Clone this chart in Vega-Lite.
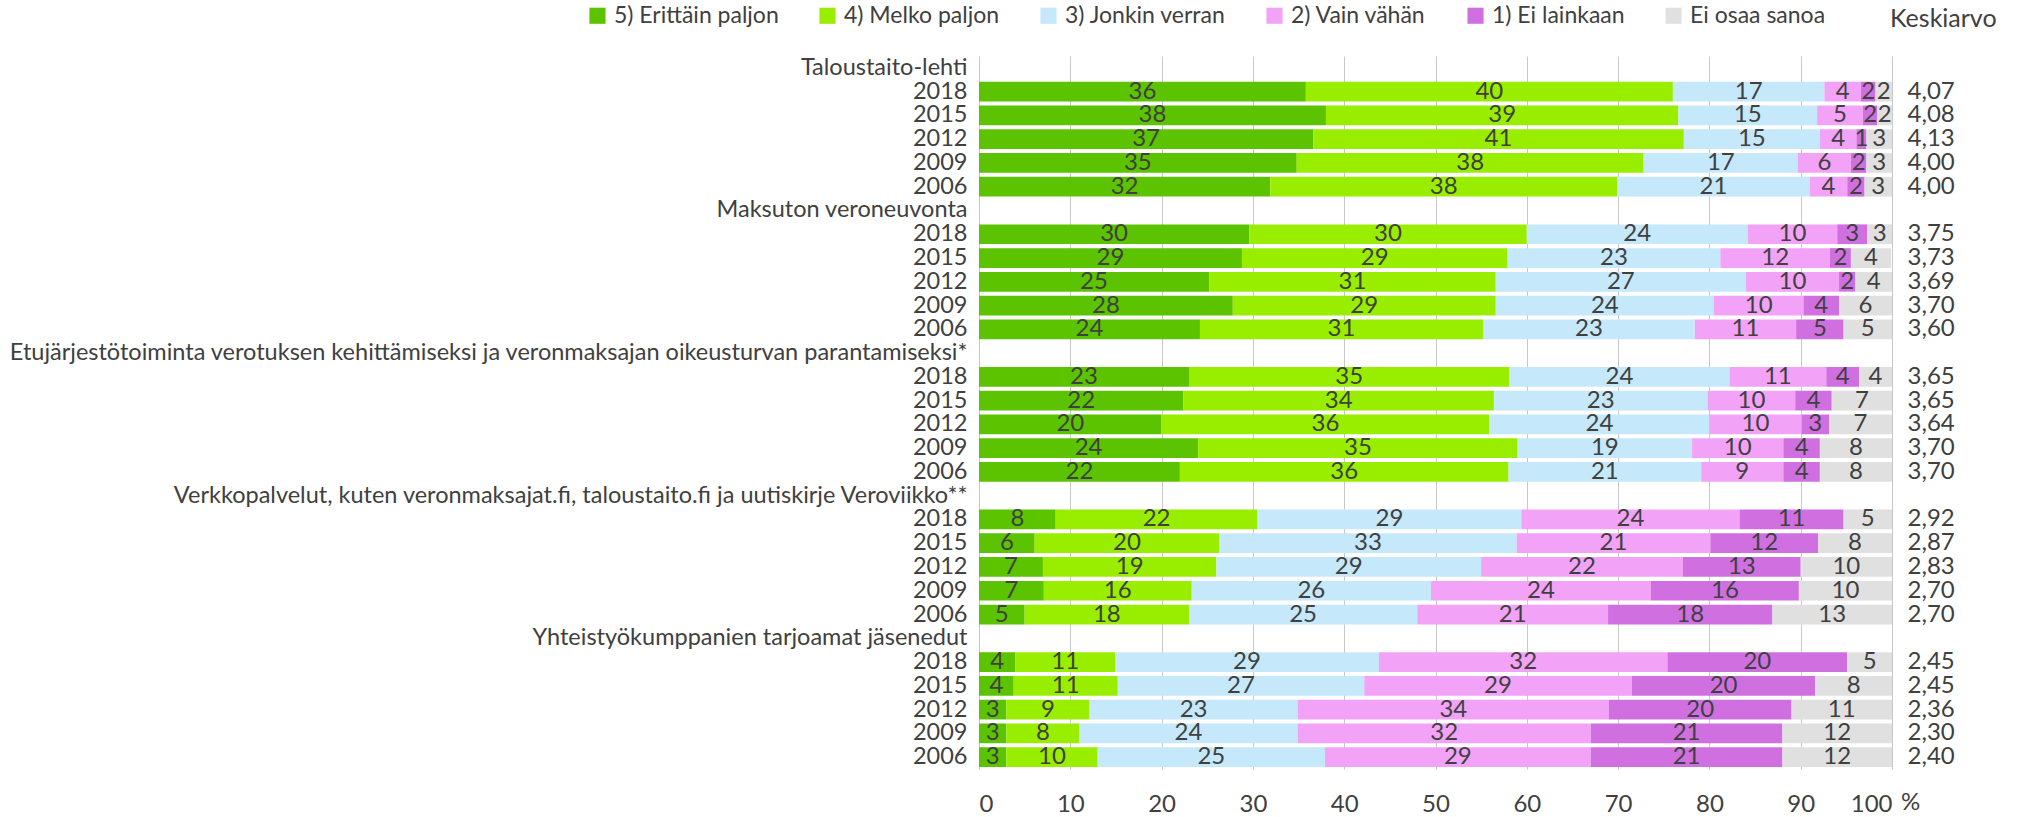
{
  "$schema": "https://vega.github.io/schema/vega-lite/v6.json",
  "width": 913,
  "height": 713,
  "autosize": {"type": "none"},
  "padding": {"left": 979, "top": 56, "right": 127, "bottom": 48},
  "background": "white",
  "config": {
    "view": {"stroke": null},
    "font": "Lato",
    "text": {"font": "Lato"}
  },
  "title": {
    "text": "Keskiarvo",
    "orient": "top",
    "anchor": "end",
    "align": "left",
    "frame": "group",
    "baseline": "middle",
    "offset": 0,
    "dy": 40,
    "dx": -2,
    "fontSize": 25,
    "fontWeight": "normal",
    "color": "#404040",
    "font": "Lato"
  },
  "data": {
    "values": [
      {"row": "1|2018", "5) Erittäin paljon": 35.8, "4) Melko paljon": 40.2, "3) Jonkin verran": 16.6, "2) Vain vähän": 4.0, "1) Ei lainkaan": 1.6, "Ei osaa sanoa": 1.8, "m": "4,07"},
      {"row": "1|2015", "5) Erittäin paljon": 38.0, "4) Melko paljon": 38.6, "3) Jonkin verran": 15.2, "2) Vain vähän": 5.0, "1) Ei lainkaan": 1.6, "Ei osaa sanoa": 1.6, "m": "4,08"},
      {"row": "1|2012", "5) Erittäin paljon": 36.6, "4) Melko paljon": 40.6, "3) Jonkin verran": 14.9, "2) Vain vähän": 4.0, "1) Ei lainkaan": 1.1, "Ei osaa sanoa": 2.8, "m": "4,13"},
      {"row": "1|2009", "5) Erittäin paljon": 34.8, "4) Melko paljon": 38.0, "3) Jonkin verran": 16.9, "2) Vain vähän": 5.8, "1) Ei lainkaan": 1.7, "Ei osaa sanoa": 2.8, "m": "4,00"},
      {"row": "1|2006", "5) Erittäin paljon": 31.9, "4) Melko paljon": 38.0, "3) Jonkin verran": 21.1, "2) Vain vähän": 4.1, "1) Ei lainkaan": 1.9, "Ei osaa sanoa": 3.0, "m": "4,00"},
      {"row": "2|2018", "5) Erittäin paljon": 29.6, "4) Melko paljon": 30.4, "3) Jonkin verran": 24.2, "2) Vain vähän": 9.8, "1) Ei lainkaan": 3.3, "Ei osaa sanoa": 2.7, "m": "3,75"},
      {"row": "2|2015", "5) Erittäin paljon": 28.8, "4) Melko paljon": 29.1, "3) Jonkin verran": 23.3, "2) Vain vähän": 12.0, "1) Ei lainkaan": 2.3, "Ei osaa sanoa": 4.4, "m": "3,73"},
      {"row": "2|2012", "5) Erittäin paljon": 25.2, "4) Melko paljon": 31.4, "3) Jonkin verran": 27.4, "2) Vain vähän": 10.2, "1) Ei lainkaan": 1.8, "Ei osaa sanoa": 4.0, "m": "3,69"},
      {"row": "2|2009", "5) Erittäin paljon": 27.8, "4) Melko paljon": 28.8, "3) Jonkin verran": 23.9, "2) Vain vähän": 9.8, "1) Ei lainkaan": 3.9, "Ei osaa sanoa": 5.8, "m": "3,70"},
      {"row": "2|2006", "5) Erittäin paljon": 24.2, "4) Melko paljon": 31.0, "3) Jonkin verran": 23.2, "2) Vain vähän": 11.1, "1) Ei lainkaan": 5.2, "Ei osaa sanoa": 5.3, "m": "3,60"},
      {"row": "3|2018", "5) Erittäin paljon": 23.0, "4) Melko paljon": 35.1, "3) Jonkin verran": 24.1, "2) Vain vähän": 10.6, "1) Ei lainkaan": 3.6, "Ei osaa sanoa": 3.6, "m": "3,65"},
      {"row": "3|2015", "5) Erittäin paljon": 22.4, "4) Melko paljon": 34.0, "3) Jonkin verran": 23.4, "2) Vain vähän": 9.6, "1) Ei lainkaan": 4.0, "Ei osaa sanoa": 6.6, "m": "3,65"},
      {"row": "3|2012", "5) Erittäin paljon": 20.0, "4) Melko paljon": 35.9, "3) Jonkin verran": 24.1, "2) Vain vähän": 10.1, "1) Ei lainkaan": 3.0, "Ei osaa sanoa": 6.9, "m": "3,64"},
      {"row": "3|2009", "5) Erittäin paljon": 24.0, "4) Melko paljon": 35.0, "3) Jonkin verran": 19.1, "2) Vain vähän": 10.0, "1) Ei lainkaan": 4.0, "Ei osaa sanoa": 7.9, "m": "3,70"},
      {"row": "3|2006", "5) Erittäin paljon": 22.0, "4) Melko paljon": 36.0, "3) Jonkin verran": 21.1, "2) Vain vähän": 9.0, "1) Ei lainkaan": 4.0, "Ei osaa sanoa": 7.9, "m": "3,70"},
      {"row": "4|2018", "5) Erittäin paljon": 8.4, "4) Melko paljon": 22.1, "3) Jonkin verran": 28.9, "2) Vain vähän": 23.9, "1) Ei lainkaan": 11.4, "Ei osaa sanoa": 5.3, "m": "2,92"},
      {"row": "4|2015", "5) Erittäin paljon": 6.1, "4) Melko paljon": 20.2, "3) Jonkin verran": 32.6, "2) Vain vähän": 21.2, "1) Ei lainkaan": 11.8, "Ei osaa sanoa": 8.1, "m": "2,87"},
      {"row": "4|2012", "5) Erittäin paljon": 7.0, "4) Melko paljon": 19.0, "3) Jonkin verran": 29.0, "2) Vain vähän": 22.1, "1) Ei lainkaan": 12.9, "Ei osaa sanoa": 10.0, "m": "2,83"},
      {"row": "4|2009", "5) Erittäin paljon": 7.1, "4) Melko paljon": 16.2, "3) Jonkin verran": 26.2, "2) Vain vähän": 24.1, "1) Ei lainkaan": 16.2, "Ei osaa sanoa": 10.2, "m": "2,70"},
      {"row": "4|2006", "5) Erittäin paljon": 5.0, "4) Melko paljon": 18.0, "3) Jonkin verran": 25.0, "2) Vain vähän": 20.9, "1) Ei lainkaan": 18.0, "Ei osaa sanoa": 13.1, "m": "2,70"},
      {"row": "5|2018", "5) Erittäin paljon": 4.0, "4) Melko paljon": 10.9, "3) Jonkin verran": 28.9, "2) Vain vähän": 31.6, "1) Ei lainkaan": 19.7, "Ei osaa sanoa": 4.9, "m": "2,45"},
      {"row": "5|2015", "5) Erittäin paljon": 3.8, "4) Melko paljon": 11.4, "3) Jonkin verran": 27.0, "2) Vain vähän": 29.3, "1) Ei lainkaan": 20.1, "Ei osaa sanoa": 8.4, "m": "2,45"},
      {"row": "5|2012", "5) Erittäin paljon": 3.0, "4) Melko paljon": 9.1, "3) Jonkin verran": 22.8, "2) Vain vähän": 34.1, "1) Ei lainkaan": 20.0, "Ei osaa sanoa": 11.0, "m": "2,36"},
      {"row": "5|2009", "5) Erittäin paljon": 3.0, "4) Melko paljon": 8.0, "3) Jonkin verran": 23.9, "2) Vain vähän": 32.1, "1) Ei lainkaan": 21.0, "Ei osaa sanoa": 12.0, "m": "2,30"},
      {"row": "5|2006", "5) Erittäin paljon": 3.0, "4) Melko paljon": 10.0, "3) Jonkin verran": 24.9, "2) Vain vähän": 29.1, "1) Ei lainkaan": 21.0, "Ei osaa sanoa": 12.0, "m": "2,40"}
    ]
  },
  "layer": [
    {
      "transform": [
        {"fold": ["5) Erittäin paljon", "4) Melko paljon", "3) Jonkin verran", "2) Vain vähän", "1) Ei lainkaan", "Ei osaa sanoa"], "as": ["cat", "v"]},
        {"calculate": "indexof(['5) Erittäin paljon', '4) Melko paljon', '3) Jonkin verran', '2) Vain vähän', '1) Ei lainkaan', 'Ei osaa sanoa'], datum.cat)", "as": "ord"},
        {"stack": "v", "groupby": ["row"], "sort": [{"field": "ord", "order": "ascending"}], "as": ["x0", "x1"]}
      ],
      "mark": {"type": "bar"},
      "encoding": {
        "y": {
          "field": "row",
          "type": "nominal",
          "scale": {
            "domain": [
              "Taloustaito-lehti", "1|2018", "1|2015", "1|2012", "1|2009", "1|2006",
              "Maksuton veroneuvonta", "2|2018", "2|2015", "2|2012", "2|2009", "2|2006",
              "Etujärjestötoiminta verotuksen kehittämiseksi ja veronmaksajan oikeusturvan parantamiseksi*", "3|2018", "3|2015", "3|2012", "3|2009", "3|2006",
              "Verkkopalvelut, kuten veronmaksajat.fi, taloustaito.fi ja uutiskirje Veroviikko**", "4|2018", "4|2015", "4|2012", "4|2009", "4|2006",
              "Yhteistyökumppanien tarjoamat jäsenedut", "5|2018", "5|2015", "5|2012", "5|2009", "5|2006"
            ],
            "paddingInner": 0.17,
            "paddingOuter": 0.085
          },
          "axis": {
            "title": null,
            "domain": false,
            "ticks": false,
            "labelPadding": 12,
            "labelFontSize": 23.5,
            "labelColor": "#404040",
            "labelLimit": 1200,
            "labelFont": "Lato",
            "labelExpr": "indexof(datum.label, '|') >= 0 ? split(datum.label, '|')[1] : datum.label"
          }
        },
        "x": {
          "field": "x0",
          "type": "quantitative",
          "scale": {"domain": [0, 100], "nice": false, "zero": true},
          "axis": {
            "values": [0, 10, 20, 30, 40, 50, 60, 70, 80, 90, 100],
            "grid": true,
            "gridColor": "#C8C8C8",
            "gridWidth": 1,
            "domain": false,
            "ticks": false,
            "tickSize": 0,
            "labelPadding": 35,
            "labelBaseline": "middle",
            "labelFontSize": 24,
            "labelColor": "#404040",
            "labelFont": "Lato",
            "title": "%",
            "titleX": 931,
            "titleY": 33,
            "titleAlign": "center",
            "titleBaseline": "middle",
            "titleFontSize": 24,
            "titleFontWeight": "normal",
            "titleColor": "#404040",
            "titleFont": "Lato"
          }
        },
        "x2": {"field": "x1"},
        "color": {
          "field": "cat",
          "type": "nominal",
          "scale": {
            "domain": ["5) Erittäin paljon", "4) Melko paljon", "3) Jonkin verran", "2) Vain vähän", "1) Ei lainkaan", "Ei osaa sanoa"],
            "range": ["#5BC300", "#99EE00", "#C5E8FB", "#F3A3F7", "#D070E0", "#E0E0E0"]
          },
          "legend": {
            "orient": "none",
            "legendX": -393,
            "legendY": -52,
            "direction": "horizontal",
            "title": null,
            "symbolType": "square",
            "symbolSize": 260,
            "symbolStrokeWidth": 0,
            "labelFontSize": 23,
            "labelColor": "#404040",
            "labelFont": "Lato",
            "labelLimit": 400,
            "labelOffset": 5,
            "columnPadding": 37
          }
        }
      }
    },
    {
      "transform": [
        {"fold": ["5) Erittäin paljon", "4) Melko paljon", "3) Jonkin verran", "2) Vain vähän", "1) Ei lainkaan", "Ei osaa sanoa"], "as": ["cat", "v"]},
        {"calculate": "indexof(['5) Erittäin paljon', '4) Melko paljon', '3) Jonkin verran', '2) Vain vähän', '1) Ei lainkaan', 'Ei osaa sanoa'], datum.cat)", "as": "ord"},
        {"stack": "v", "groupby": ["row"], "sort": [{"field": "ord", "order": "ascending"}], "as": ["x0", "x1"]},
        {"calculate": "(datum.x0 + datum.x1) / 2", "as": "mid"}
      ],
      "mark": {"type": "text", "fontSize": 24, "color": "#404040", "baseline": "middle", "align": "center", "font": "Lato"},
      "encoding": {
        "y": {"field": "row", "type": "nominal"},
        "x": {"field": "mid", "type": "quantitative"},
        "text": {"field": "v", "type": "quantitative", "format": ".0f"}
      }
    },
    {
      "mark": {"type": "text", "fontSize": 24, "color": "#404040", "baseline": "middle", "align": "left", "font": "Lato"},
      "encoding": {
        "y": {"field": "row", "type": "nominal"},
        "x": {"datum": 101.7, "type": "quantitative"},
        "text": {"field": "m", "type": "nominal"}
      }
    }
  ]
}
